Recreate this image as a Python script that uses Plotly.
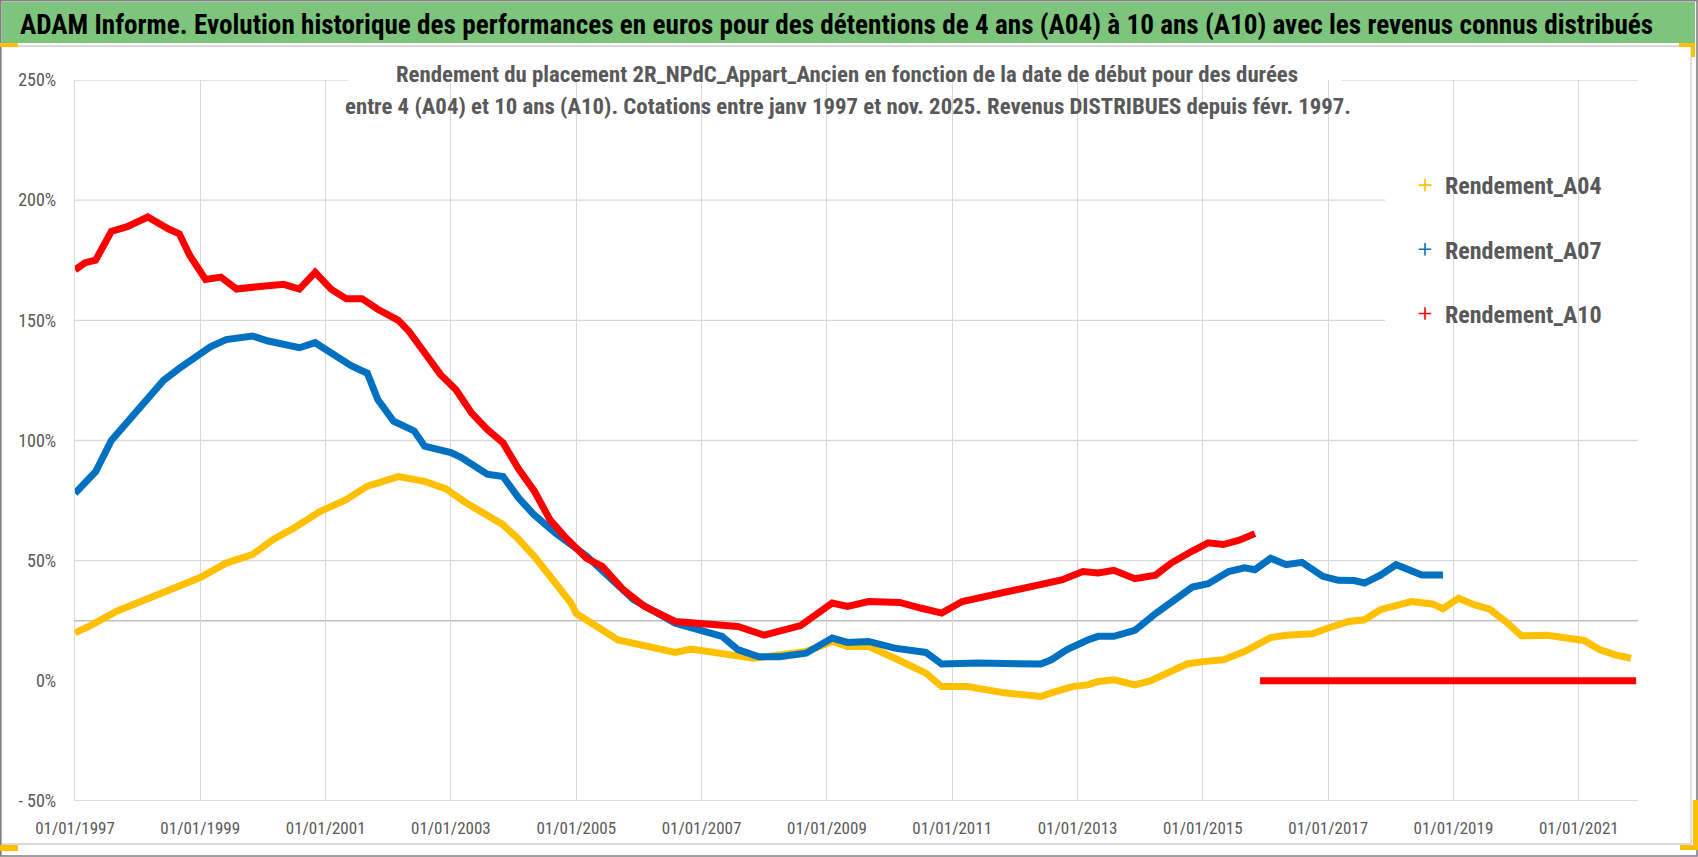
import plotly.graph_objects as go

# ---------------- data ----------------
A04_DATES = ["1997-01","1997-04","1997-09","1998-04","1999-01","1999-06","1999-11","2000-03","2000-07","2000-12",
             "2001-05","2001-09","2001-12","2002-03","2002-08","2002-12","2003-04","2003-08","2003-11","2004-02",
             "2004-05","2004-09","2004-12","2005-01","2005-03","2005-05","2005-09","2006-02","2006-08","2006-11",
             "2007-05","2007-11","2008-09","2009-02","2009-05","2009-09","2010-02","2010-08","2010-11","2011-04",
             "2011-11","2012-06","2012-08","2012-12","2013-03","2013-05","2013-08","2013-12","2014-03","2014-06",
             "2014-10","2015-01","2015-05","2015-09","2016-02","2016-05","2016-10","2017-01","2017-05","2017-08",
             "2017-11","2018-05","2018-09","2018-11","2019-02","2019-05","2019-08","2019-11","2020-02","2020-07",
             "2020-10","2021-02","2021-05","2021-06","2021-08","2021-11"]
A04_VALUES = [20,23,29,35,43,49,52.5,58.8,63.6,70.5,
              75.4,81,83,85,83,80,74,68.5,65,58.8,
              51.8,40.7,32.4,28,25,22.6,17,14.3,11.8,13.2,
              11.25,9.4,12.2,16.4,14.3,14.3,9.4,3.2,-2.4,-2.4,
              -5,-6.5,-5,-2.4,-1.7,-0.3,0.4,-1.7,0,3.2,
              7,8,8.75,12.2,18,19,19.6,22,24.7,25.4,
              29.6,33,32,30,34.4,31.7,29.8,24.7,18.75,19,
              17.8,16.8,13,12.2,10.8,9.4]

A07_DATES = ["1997-01","1997-05","1997-08","1997-10","1998-03","1998-06","1998-09","1999-01","1999-03","1999-06",
             "1999-11","2000-02","2000-08","2000-11","2001-02","2001-06","2001-09","2001-11","2002-02","2002-06",
             "2002-08","2003-01","2003-03","2003-08","2003-11","2004-02","2004-05","2004-09","2005-03","2005-08",
             "2005-12","2006-08","2007-05","2007-08","2007-12","2008-04","2008-09","2009-02","2009-05","2009-09",
             "2010-02","2010-08","2010-11","2011-06","2012-06","2012-08","2012-11","2013-03","2013-05","2013-08",
             "2013-12","2014-04","2014-07","2014-11","2015-02","2015-06","2015-09","2015-11","2016-02","2016-05",
             "2016-08","2016-12","2017-03","2017-06","2017-08","2017-11","2018-02","2018-05","2018-07","2018-11"]
A07_VALUES = [78,87,100,105,118,125,130,136,139,142,
              143.5,141.4,138.6,140.7,136.5,131,128,117,108,104,
              97.6,95,93,86,85,76,69,61.5,52,42,
              33.75,24,18.5,13,10,10,11.5,17.8,16,16.4,
              13.6,11.8,7,7.4,7,8.75,13,17,18.5,18.5,
              21,28,33,39,40.4,45.5,47,46.25,51,48.3,
              49.3,43.5,41.8,41.7,40.7,44,48.3,45.5,44,44]

A10_DATES = ["1997-01","1997-03","1997-05","1997-08","1997-11","1998-03","1998-07","1998-09","1998-11","1999-01",
             "1999-02","1999-05","1999-08","1999-12","2000-05","2000-08","2000-11","2001-02","2001-05","2001-08",
             "2001-11","2002-03","2002-05","2002-08","2002-11","2003-02","2003-05","2003-08","2003-11","2004-02",
             "2004-05","2004-08","2004-11","2005-03","2005-06","2005-10","2006-02","2006-08","2006-12","2007-08",
             "2008-01","2008-08","2009-02","2009-05","2009-09","2010-03","2010-07","2010-11","2011-03","2011-09",
             "2012-04","2012-10","2013-02","2013-05","2013-08","2013-12","2014-04","2014-07","2014-11","2015-02",
             "2015-05","2015-08","2015-11"]
A10_VALUES = [171,174,175,187,189,193,188,186,177,170.5,
              167,168,163,164,165,163,170,163,159,159,
              154.6,150,145.5,136.5,127.5,121,111.5,104.6,99,88,
              79,67,59.5,51,47.6,38,31,24.7,24,22.6,
              19,23,32.4,31,33,32.6,30.3,28.2,33,35.8,
              38.6,42,45.5,44.9,46,42.5,44,49,54,57.4,
              56.7,58.5,61.25]
# A10 values shown as 0 for start dates without a full 10-year history
A10_ZERO_DATES = ["2015-12", "2021-12"]
A10_ZERO_VALUES = [0, 0]

SERIES_NAMES = ["Rendement_A04", "Rendement_A07", "Rendement_A10"]
COLORS = ["#FFC000", "#0070C0", "#FF0000"]

Y_TICKS = [-50, 0, 50, 100, 150, 200, 250]
Y_TICK_TEXT = ["- 50%", "0%", "50%", "100%", "150%", "200%", "250%"]
Y_GRID = [-50, 50, 100, 150, 200, 250]
Y_REF_LINE = 25

TITLE = ("ADAM Informe. Evolution historique des performances en euros pour des détentions "
         "de 4 ans (A04) à 10 ans (A10) avec les revenus connus distribués")
SUB1 = "Rendement du placement 2R_NPdC_Appart_Ancien en fonction de la date de début pour des durées"
SUB2 = "entre 4 (A04) et 10 ans (A10). Cotations entre janv 1997 et nov. 2025. Revenus DISTRIBUES depuis févr. 1997."

# ---------------- layout geometry (pixels) ----------------
W, H = 1698, 857
L, R, T, B = 75, 60, 80, 56
PW, PH = W - L - R, H - T - B


def px(x):
    return (x - L) / PW


def py(y):
    return (H - B - y) / PH


FONT = "Liberation Sans Narrow, Arial Narrow, Roboto Condensed, Liberation Sans, sans-serif"
GREY_TXT = "#595959"

fig = go.Figure()

series = [
    (A04_DATES, A04_VALUES),
    (A07_DATES, A07_VALUES),
    (A10_DATES + [None] + A10_ZERO_DATES, A10_VALUES + [None] + A10_ZERO_VALUES),
]
for (xs, ys), name, col in zip(series, SERIES_NAMES, COLORS):
    fig.add_trace(go.Scatter(
        x=[(d + "-01") if d else None for d in xs], y=ys, mode="lines", name=name,
        line=dict(color=col, width=7), connectgaps=False, showlegend=False,
        hovertemplate="%{x|%m/%Y}: %{y:.1f}%<extra>" + name + "</extra>"))

for i, (name, col) in enumerate(zip(SERIES_NAMES, COLORS)):
    fig.add_trace(go.Scatter(
        x=[None], y=[None], mode="markers", name=name, legendgroup=name,
        marker=dict(symbol="cross-thin", size=9, color=col, line=dict(color=col, width=1.6))))

shapes = []
# horizontal gridlines
for g in Y_GRID:
    shapes.append(dict(type="line", xref="paper", yref="y", x0=0, x1=1, y0=g, y1=g,
                       line=dict(color="#D9D9D9" if g != -50 else "#D0D0D0", width=1.3), layer="below"))
shapes.append(dict(type="line", xref="paper", yref="y", x0=0, x1=1, y0=Y_REF_LINE, y1=Y_REF_LINE,
                   line=dict(color="#BFBFBF", width=1.6), layer="below"))
# white boxes behind subtitle and legend
shapes.append(dict(type="rect", xref="paper", yref="paper", x0=px(348), x1=px(1342), y0=py(140), y1=py(56),
                   fillcolor="white", line=dict(width=0), layer="between"))
shapes.append(dict(type="rect", xref="paper", yref="paper", x0=px(1385), x1=px(1640), y0=py(346), y1=py(150),
                   fillcolor="white", line=dict(width=0), layer="between"))


def prect(x0, y0, x1, y1, **kw):
    d = dict(type="rect", xref="paper", yref="paper", x0=px(x0), x1=px(x1), y0=py(y1), y1=py(y0), layer="above")
    d.update(kw)
    return d


# frame
shapes.append(prect(2, 2, 1695, 43, fillcolor="#7DC57D", line=dict(width=0)))
shapes.append(dict(type="line", xref="paper", yref="paper", x0=px(2), x1=px(1691), y0=py(46), y1=py(46),
                   line=dict(color="#D9D9D9", width=2), layer="above"))
shapes.append(dict(type="line", xref="paper", yref="paper", x0=px(2), x1=px(1691), y0=py(844), y1=py(844),
                   line=dict(color="#D9D9D9", width=2), layer="above"))
shapes.append(dict(type="line", xref="paper", yref="paper", x0=px(1691), x1=px(1691), y0=py(46), y1=py(844),
                   line=dict(color="#D9D9D9", width=1.5), layer="above"))
shapes.append(prect(0.8, 0.8, 1697, 856, line=dict(color="#7F7F7F", width=1.6)))
for (a, b, c, d) in [(0, 43, 18, 47), (0, 845, 18, 851), (1679, 43, 1695, 47), (1691, 43, 1695, 57),
                     (1680, 845, 1698, 850), (1693, 800, 1698, 850)]:
    shapes.append(prect(a, b, c, d, fillcolor="#FFC000", line=dict(width=0)))

annotations = [
    dict(text="<b>" + TITLE + "</b>", xref="paper", yref="paper", x=px(836), y=py(25),
         xanchor="center", yanchor="middle", showarrow=False, font=dict(family=FONT, size=27.2, color="black")),
    dict(text="<b>" + SUB1 + "</b>", xref="paper", yref="paper", x=px(847), y=py(74),
         xanchor="center", yanchor="middle", showarrow=False, font=dict(family=FONT, size=22.8, color=GREY_TXT)),
    dict(text="<b>" + SUB2 + "</b>", xref="paper", yref="paper", x=px(848), y=py(107),
         xanchor="center", yanchor="middle", showarrow=False, font=dict(family=FONT, size=22.8, color=GREY_TXT)),
]

fig.update_layout(
    width=W, height=H, margin=dict(l=L, r=R, t=T, b=B),
    paper_bgcolor="white", plot_bgcolor="white",
    shapes=shapes, annotations=annotations,
    showlegend=True,
    legend=dict(x=px(1405), y=py(163), xanchor="left", yanchor="top", bgcolor="rgba(0,0,0,0)",
                font=dict(family=FONT, size=24, color=GREY_TXT, weight="bold"),
                traceorder="grouped", tracegroupgap=30, itemwidth=30),
    xaxis=dict(type="date", range=["1997-01-01", "2021-12-12"], tick0="1997-01-01", dtick="M24",
               tickformat="%d/%m/%Y", showgrid=True, gridcolor="#D9D9D9", gridwidth=1.3,
               zeroline=False, showline=False, ticks="", ticklabelstandoff=15,
               tickfont=dict(family=FONT, size=17, color=GREY_TXT)),
    yaxis=dict(range=[-50, 250], tickvals=Y_TICKS, ticktext=Y_TICK_TEXT, showgrid=False, zeroline=False,
               showline=True, linecolor="#D9D9D9", linewidth=1.3, ticks="", ticklabelstandoff=14,
               tickfont=dict(family=FONT, size=18, color=GREY_TXT)),
)

fig.write_html("out.html", config={"displayModeBar": False},
               post_script="document.body.style.margin='0px';document.body.style.overflow='hidden';")
